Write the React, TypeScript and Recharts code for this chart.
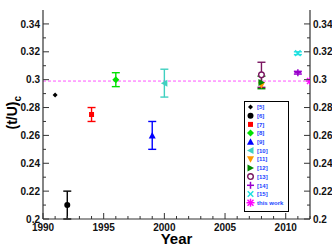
import React from 'react';
import { ComposedChart, Scatter, XAxis, YAxis, ErrorBar, ReferenceLine, Legend } from 'recharts';

const refLabels = ['[5]', '[6]', '[7]', '[8]', '[9]', '[10]', '[11]', '[12]', '[13]', '[14]', '[15]', 'this work'];
const years = [1991, 1992, 1994, 1996, 1999, 2000, 2008, 2008, 2008, 2011, 2011, 2012];
const values = [0.289, 0.21, 0.275, 0.3, 0.26, 0.2975, 0.296, 0.298, 0.3035, 0.305, 0.319, 0.299];
const errors = [0, 0.01, 0.005, 0.005, 0.01, 0.01, 0, 0.0045, 0.009, 0.001, 0.001, 0];
const colors = ['#000000', '#000000', '#ff0000', '#00e000', '#0000ff', '#40d0c0', '#ff9900', '#008800', '#7a1660', '#9900cc', '#20e0e0', '#ff00ff'];
const shapes = ['diamondSmall', 'circle', 'square', 'diamond', 'triangleUp', 'triangleLeft', 'triangleDown', 'triangleRight', 'circleOpen', 'plus', 'cross', 'asterisk'];
const thisWorkValue = 0.299;

const xTicks = [1990, 1991, 1992, 1993, 1994, 1995, 1996, 1997, 1998, 1999, 2000, 2001, 2002, 2003, 2004, 2005, 2006, 2007, 2008, 2009, 2010, 2011, 2012];
const xMajor = [1990, 1995, 2000, 2005, 2010];
const yTicks = [0.2, 0.21, 0.22, 0.23, 0.24, 0.25, 0.26, 0.27, 0.28, 0.29, 0.3, 0.31, 0.32, 0.33, 0.34];
const yMajor = [0.2, 0.22, 0.24, 0.26, 0.28, 0.3, 0.32, 0.34];
const yMajorLabels = ['0.2', '0.22', '0.24', '0.26', '0.28', '0.3', '0.32', '0.34'];

const FONT = '"Liberation Sans", Arial, Helvetica, sans-serif';
const AXIS = '#333';

function marker(kind: string, color: string, cx: number, cy: number) {
  switch (kind) {
    case 'diamondSmall':
      return <polygon points={`${cx},${cy - 2.5} ${cx + 2.5},${cy} ${cx},${cy + 2.5} ${cx - 2.5},${cy}`} fill={color} />;
    case 'circle':
      return <circle cx={cx} cy={cy} r={3} fill={color} />;
    case 'square':
      return <rect x={cx - 2.5} y={cy - 2.5} width={5} height={5} fill={color} />;
    case 'diamond':
      return <polygon points={`${cx},${cy - 3.5} ${cx + 3.5},${cy} ${cx},${cy + 3.5} ${cx - 3.5},${cy}`} fill={color} />;
    case 'triangleUp':
      return <polygon points={`${cx},${cy - 3.5} ${cx + 3.5},${cy + 3} ${cx - 3.5},${cy + 3}`} fill={color} />;
    case 'triangleDown':
      return <polygon points={`${cx},${cy + 3.5} ${cx + 3.5},${cy - 3} ${cx - 3.5},${cy - 3}`} fill={color} />;
    case 'triangleLeft':
      return <polygon points={`${cx - 3.5},${cy} ${cx + 3},${cy - 3.5} ${cx + 3},${cy + 3.5}`} fill={color} />;
    case 'triangleRight':
      return <polygon points={`${cx + 3.5},${cy} ${cx - 3},${cy - 3.5} ${cx - 3},${cy + 3.5}`} fill={color} />;
    case 'circleOpen':
      return <circle cx={cx} cy={cy} r={2.8} fill="#fff" stroke={color} strokeWidth={1.4} />;
    case 'plus':
      return (
        <g stroke={color} strokeWidth={1.5}>
          <line x1={cx - 3.5} x2={cx + 3.5} y1={cy} y2={cy} />
          <line x1={cx} x2={cx} y1={cy - 3.5} y2={cy + 3.5} />
        </g>
      );
    case 'cross':
      return (
        <g stroke={color} strokeWidth={1.5}>
          <line x1={cx - 2.8} x2={cx + 2.8} y1={cy - 2.8} y2={cy + 2.8} />
          <line x1={cx - 2.8} x2={cx + 2.8} y1={cy + 2.8} y2={cy - 2.8} />
        </g>
      );
    case 'asterisk':
    default:
      return (
        <g stroke={color} strokeWidth={1.5}>
          <line x1={cx - 4} x2={cx + 4} y1={cy} y2={cy} />
          <line x1={cx} x2={cx} y1={cy - 4} y2={cy + 4} />
          <line x1={cx - 3} x2={cx + 3} y1={cy - 3} y2={cy + 3} />
          <line x1={cx - 3} x2={cx + 3} y1={cy + 3} y2={cy - 3} />
        </g>
      );
  }
}

const isMajorY = (v: number) => yMajor.some((m) => Math.abs(m - v) < 1e-6);
const yLabel = (v: number) => {
  const i = yMajor.findIndex((m) => Math.abs(m - v) < 1e-6);
  return i >= 0 ? yMajorLabels[i] : '';
};

const LeftTick = (props: any) => {
  const { x, y, payload } = props;
  const v = payload.value;
  const major = isMajorY(v);
  return (
    <g>
      <line x1={x} x2={x + (major ? 6 : 3)} y1={y} y2={y} stroke={AXIS} strokeWidth={1} />
      {major && (
        <text x={x - 3} y={y + 3.6} textAnchor="end" fontSize={10} fontWeight="bold" fontFamily={FONT} fill="#111">
          {yLabel(v)}
        </text>
      )}
    </g>
  );
};

const RightTick = (props: any) => {
  const { x, y, payload } = props;
  const v = payload.value;
  const major = isMajorY(v);
  return (
    <g>
      <line x1={x} x2={x - (major ? 6 : 3)} y1={y} y2={y} stroke={AXIS} strokeWidth={1} />
      {major && (
        <text x={x + 3} y={y + 3.6} textAnchor="start" fontSize={10} fontWeight="bold" fontFamily={FONT} fill="#111">
          {yLabel(v)}
        </text>
      )}
    </g>
  );
};

const BottomTick = (props: any) => {
  const { x, y, payload } = props;
  const v = payload.value;
  const major = xMajor.includes(v);
  return (
    <g>
      <line x1={x} x2={x} y1={y} y2={y - (major ? 6 : 3)} stroke={AXIS} strokeWidth={1} />
      {major && (
        <text x={x} y={y + 12} textAnchor="middle" fontSize={10} fontWeight="bold" fontFamily={FONT} fill="#111">
          {String(v)}
        </text>
      )}
    </g>
  );
};

const TopTick = (props: any) => {
  const { x, y, payload } = props;
  const v = payload.value;
  const major = xMajor.includes(v);
  return <line x1={x} x2={x} y1={y} y2={y + (major ? 6 : 3)} stroke={AXIS} strokeWidth={1} />;
};

const YTitle = (props: any) => {
  const vb = props.viewBox;
  const bx = vb.x + 16.5;
  const by = vb.y + vb.height / 2 + 15;
  return (
    <text transform={`translate(${bx},${by}) rotate(-90)`} textAnchor="start" fontSize={14} fontWeight="bold" fontFamily={FONT} fill="#000">
      (t/U)
      <tspan fontSize={10} dy={4}>c</tspan>
    </text>
  );
};

const XTitle = (props: any) => {
  const vb = props.viewBox;
  return (
    <text x={vb.x + vb.width / 2} y={vb.y + 25} textAnchor="middle" fontSize={15} fontWeight="bold" fontFamily={FONT} fill="#000">
      Year
    </text>
  );
};

const LegendBox = () => {
  const rowH = 8.7;
  return (
    <svg width={45} height={111} style={{ display: 'block' }}>
      <rect x={0.5} y={0.5} width={44} height={110} fill="#fff" stroke="#000" strokeWidth={1} />
      {refLabels.map((lab, i) => {
        const cy = 6 + i * rowH;
        return (
          <g key={lab}>
            {marker(shapes[i], colors[i], 6.5, cy)}
            <text x={13} y={cy + 2.2} fontSize={6} fontWeight="bold" fontFamily={FONT} fill="#2244ff">
              {lab}
            </text>
          </g>
        );
      })}
    </svg>
  );
};

const seriesData = refLabels.map((lab, i) => ({
  name: lab,
  data: [{ x: years[i], y: values[i], err: errors[i] }],
  color: colors[i],
  shape: shapes[i],
  hasErr: errors[i] > 0,
}));

export default function App() {
  return (
    <div style={{ position: 'absolute', left: 0, top: 0, width: 332, height: 249, background: '#fff' }}>
      <ComposedChart width={332} height={249} margin={{ top: 10, right: 0, bottom: 0, left: 0 }}>
        <XAxis
          xAxisId="bottom"
          type="number"
          dataKey="x"
          domain={[1990, 2012]}
          ticks={xTicks}
          interval={0}
          height={30}
          tickSize={0}
          tickMargin={0}
          tickLine={false}
          axisLine={{ stroke: AXIS, strokeWidth: 1.2 }}
          tick={<BottomTick />}
          allowDataOverflow
          label={{ content: <XTitle /> }}
        />
        <XAxis
          xAxisId="top"
          orientation="top"
          type="number"
          dataKey="x"
          domain={[1990, 2012]}
          ticks={xTicks}
          interval={0}
          height={0}
          tickSize={0}
          tickMargin={0}
          tickLine={false}
          axisLine={{ stroke: AXIS, strokeWidth: 1.2 }}
          tick={<TopTick />}
          allowDataOverflow
        />
        <YAxis
          yAxisId="left"
          type="number"
          dataKey="y"
          domain={[0.2, 0.35]}
          ticks={yTicks}
          interval={0}
          width={43}
          tickSize={0}
          tickMargin={0}
          tickLine={false}
          axisLine={{ stroke: AXIS, strokeWidth: 1.2 }}
          tick={<LeftTick />}
          allowDataOverflow
          label={{ content: <YTitle /> }}
        />
        <YAxis
          yAxisId="right"
          orientation="right"
          type="number"
          dataKey="y"
          domain={[0.2, 0.35]}
          ticks={yTicks}
          interval={0}
          width={22}
          tickSize={0}
          tickMargin={0}
          tickLine={false}
          axisLine={{ stroke: AXIS, strokeWidth: 1.2 }}
          tick={<RightTick />}
          allowDataOverflow
        />
        <ReferenceLine xAxisId="bottom" yAxisId="left" y={thisWorkValue} stroke="#ff55ff" strokeWidth={1} strokeDasharray="3 2" />
        {seriesData.map((s) => (
          <Scatter
            key={s.name}
            name={s.name}
            data={s.data}
            xAxisId="bottom"
            yAxisId="left"
            dataKey="y"
            fill={s.color}
            isAnimationActive={false}
            shape={(p: any) => marker(s.shape, s.color, p.cx, p.cy)}
          >
            {s.hasErr && <ErrorBar dataKey="err" direction="y" width={4} stroke={s.color} strokeWidth={1.4} />}
          </Scatter>
        ))}
        <Legend
          layout="vertical"
          align="center"
          verticalAlign="middle"
          content={<LegendBox />}
          wrapperStyle={{ position: 'absolute', left: 244, top: 101, width: 45, height: 111 }}
        />
      </ComposedChart>
    </div>
  );
}
